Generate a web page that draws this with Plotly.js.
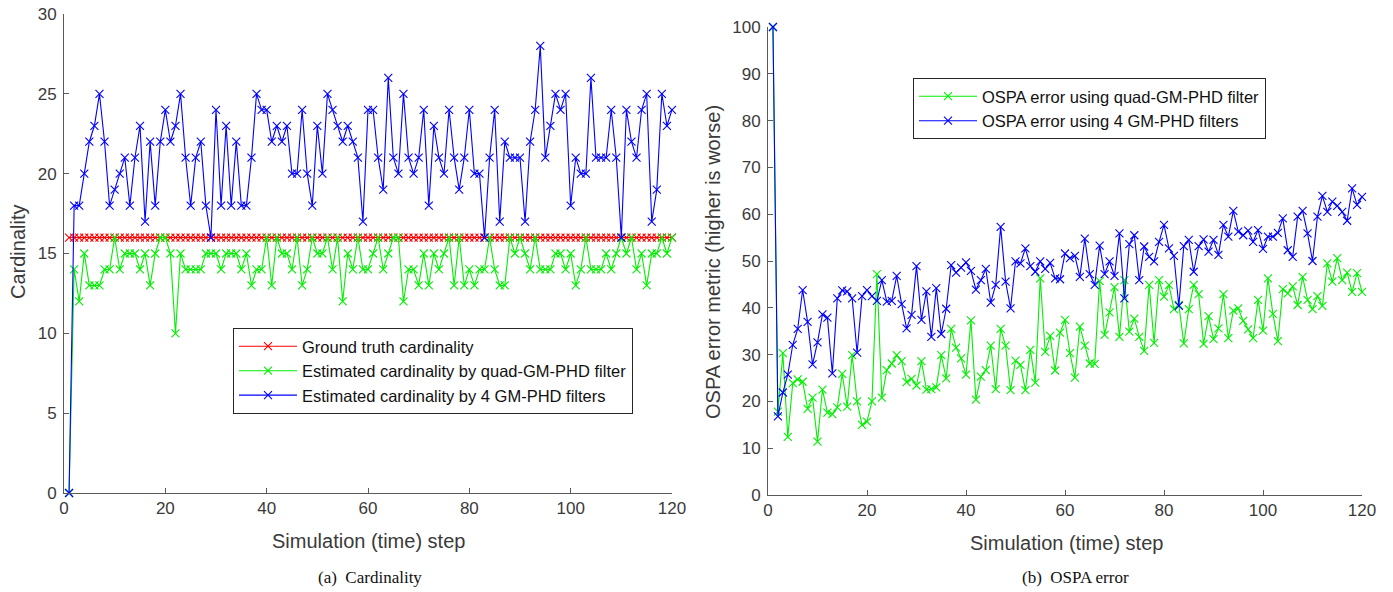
<!DOCTYPE html>
<html>
<head>
<meta charset="utf-8">
<script src="https://cdn.plot.ly/plotly-3.0.1.min.js"></script>
<style>html,body{margin:0;padding:0;background:#fff}#chart{width:1393px;height:592px}</style>
</head>
<body>
<div id="chart"></div>
<script>
// ---- data ----
const steps = Array.from({length: 120}, (_, i) => i + 1);

const groundTruthCard = [
16,16,16,16,16,16,16,16,16,16, 16,16,16,16,16,16,16,16,16,16,
16,16,16,16,16,16,16,16,16,16, 16,16,16,16,16,16,16,16,16,16,
16,16,16,16,16,16,16,16,16,16, 16,16,16,16,16,16,16,16,16,16,
16,16,16,16,16,16,16,16,16,16, 16,16,16,16,16,16,16,16,16,16,
16,16,16,16,16,16,16,16,16,16, 16,16,16,16,16,16,16,16,16,16,
16,16,16,16,16,16,16,16,16,16, 16,16,16,16,16,16,16,16,16,16];

const quadCard = [
0,14,12,15,13,13,13,14,14,16, 14,15,15,15,14,15,13,15,16,16,
15,10,15,14,14,14,14,15,15,15, 14,15,15,15,14,15,13,14,14,16,
13,16,15,15,14,16,13,14,16,15, 15,16,14,16,12,15,14,16,14,14,
15,16,14,15,16,16,12,14,14,13, 15,13,15,14,15,16,13,16,13,14,
13,14,14,16,14,13,13,16,15,16, 15,14,16,14,14,14,15,15,14,15,
13,14,16,14,14,14,15,14,15,16, 15,16,14,15,13,15,15,16,15,16];

const fourCard = [
0,18,18,20,22,23,25,22,18,19, 20,21,18,21,23,17,22,18,22,24,
22,23,25,21,18,21,22,18,16,24, 18,23,18,22,18,18,21,25,24,24,
22,23,22,23,20,20,24,20,18,23, 20,25,24,23,22,23,22,21,17,24,
24,21,19,26,21,20,25,21,20,21, 24,18,23,21,20,24,21,19,21,24,
20,20,16,21,24,17,22,21,21,21, 17,22,24,28,21,23,25,24,25,18,
21,20,20,26,21,21,21,24,21,16, 24,22,21,24,25,17,19,25,23,24];

const quadOspa = [
100,17.8,30.3,12.4,23.9,24.7,24.2,18.4,20.8,11.4,
22.5,17.6,17.3,18.7,25.9,18.9,29.9,20.0,15.0,15.7,
20.0,47.2,20.8,26.7,28.1,29.9,28.6,24.1,24.8,23.4,
28.6,22.5,22.6,23.0,29.9,24.9,35.5,31.5,29.2,25.7,
37.3,20.4,25.3,26.7,31.9,22.6,35.5,31.9,22.4,28.7,
27.8,22.4,31.0,24.0,46.3,30.6,34.0,26.6,34.7,37.4,
30.3,25.1,36.0,31.9,28.1,28.0,45.7,34.2,39.0,44.4,
33.8,45.9,34.9,37.7,33.8,30.8,44.9,32.5,45.9,42.4,
44.9,39.7,40.6,32.4,39.7,44.9,42.9,32.3,38.2,33.3,
35.6,42.9,33.5,39.4,39.9,37.2,35.4,33.5,41.7,35.1,
46.3,38.7,32.9,44.0,43.1,44.6,40.6,46.6,41.7,39.7,
42.5,40.4,49.5,45.6,50.6,45.9,47.5,43.4,47.4,43.4];

const fourOspa = [
100,16.8,21.9,25.7,32.1,35.5,43.8,37.0,27.9,32.6,
38.6,37.9,26.0,42.0,43.7,43.5,42.0,30.4,42.5,43.8,
42.5,41.5,45.9,41.3,41.5,46.8,40.8,35.6,38.5,48.9,
37.4,43.5,33.8,44.2,34.4,39.8,49.1,47.5,48.6,49.7,
47.9,43.9,45.9,48.3,41.1,44.9,57.3,45.6,39.9,49.9,
49.5,52.7,48.9,47.7,49.9,48.3,49.6,46.3,46.1,51.6,
50.6,51.1,46.6,54.8,47.2,44.9,53.3,47.2,49.9,46.8,
55.9,42.0,53.6,55.5,45.9,53.1,50.9,49.9,54.1,57.7,
52.7,51.1,40.4,53.2,54.5,47.7,53.2,54.6,52.0,54.5,
51.3,57.7,55.2,60.7,56.3,55.5,56.5,54.1,56.6,52.6,
55.2,55.2,56.0,59.1,52.3,50.9,59.5,60.7,55.9,50.0,
59.5,63.9,60.5,62.7,61.8,60.5,58.6,65.5,62.0,63.7];

const leftNames = ['Ground truth cardinality', 'Estimated cardinality by quad-GM-PHD filter', 'Estimated cardinality by 4 GM-PHD filters'];
const rightNames = ['OSPA error using quad-GM-PHD filter', 'OSPA error using 4 GM-PHD filters'];

// ---- styling ----
const W = 1393, H = 592;
const px = v => v / W;
const py = v => 1 - v / H;
const SANS = 'Liberation Sans, Arial, Helvetica, sans-serif';
const SERIF = 'Liberation Serif, Times New Roman, serif';
const TXT = '#3a3a3a';
const AX = '#5a5a5a';

function tr(y, name, color, xa, ya, leg) {
  return {
    x: steps, y: y, name: name, type: 'scatter', mode: 'lines+markers',
    xaxis: xa, yaxis: ya, legend: leg, cliponaxis: false,
    line: {color: color, width: 1.1},
    marker: {symbol: 'x-thin-open', size: 8, color: color, line: {color: color, width: 1.1}}
  };
}

const data = [
  tr(groundTruthCard, leftNames[0], '#ff0000', 'x', 'y', 'legend'),
  tr(quadCard, leftNames[1], '#00f000', 'x', 'y', 'legend'),
  tr(fourCard, leftNames[2], '#0000ff', 'x', 'y', 'legend'),
  tr(quadOspa, rightNames[0], '#00f000', 'x2', 'y2', 'legend2'),
  tr(fourOspa, rightNames[1], '#0000ff', 'x2', 'y2', 'legend2')
];

function axis(extra) {
  return Object.assign({
    showline: true, linecolor: AX, linewidth: 1,
    ticks: 'inside', ticklen: 5, tickwidth: 1, tickcolor: AX,
    showgrid: false, zeroline: false, mirror: false,
    tickfont: {family: SANS, size: 17, color: TXT},
    automargin: false
  }, extra);
}

const legStyle = {
  font: {family: SANS, size: 16.5, color: '#111'},
  bgcolor: '#ffffff', bordercolor: '#262626', borderwidth: 1,
  xanchor: 'left', yanchor: 'top', tracegroupgap: 0, itemwidth: 58
};

const layout = {
  width: W, height: H,
  margin: {l: 0, r: 0, t: 0, b: 0},
  paper_bgcolor: '#ffffff', plot_bgcolor: '#ffffff',
  showlegend: true,
  xaxis: axis({domain: [px(64), px(672)], range: [0, 120], tickvals: [0, 20, 40, 60, 80, 100, 120], anchor: 'y'}),
  yaxis: axis({domain: [py(493), py(14)], range: [0, 30], tickvals: [0, 5, 10, 15, 20, 25, 30], anchor: 'x', ticklabelstandoff: 3}),
  xaxis2: axis({domain: [px(768), px(1362)], range: [0, 120], tickvals: [0, 20, 40, 60, 80, 100, 120], anchor: 'y2'}),
  yaxis2: axis({domain: [py(495), py(27)], range: [0, 100], tickvals: [0, 10, 20, 30, 40, 50, 60, 70, 80, 90, 100], anchor: 'x2', ticklabelstandoff: 3}),
  legend: Object.assign({x: px(233), y: py(328)}, legStyle),
  legend2: Object.assign({x: px(913), y: py(78)}, legStyle),
  annotations: [
    {text: 'Simulation (time) step', x: px(368), y: py(541), xref: 'paper', yref: 'paper', showarrow: false, xanchor: 'center', yanchor: 'middle', font: {family: SANS, size: 20, color: TXT}},
    {text: 'Simulation (time) step', x: px(1066), y: py(543), xref: 'paper', yref: 'paper', showarrow: false, xanchor: 'center', yanchor: 'middle', font: {family: SANS, size: 20, color: TXT}},
    {text: 'Cardinality', x: px(18), y: py(252), xref: 'paper', yref: 'paper', showarrow: false, textangle: -90, xanchor: 'center', yanchor: 'middle', font: {family: SANS, size: 20, color: TXT}},
    {text: 'OSPA error metric (higher is worse)', x: px(713), y: py(262), xref: 'paper', yref: 'paper', showarrow: false, textangle: -90, xanchor: 'center', yanchor: 'middle', font: {family: SANS, size: 20, color: TXT}},
    {text: '(a)&nbsp;&nbsp;Cardinality', x: px(370), y: py(577), xref: 'paper', yref: 'paper', showarrow: false, xanchor: 'center', yanchor: 'middle', font: {family: SERIF, size: 17, color: '#111'}},
    {text: '(b)&nbsp;&nbsp;OSPA error', x: px(1075), y: py(577), xref: 'paper', yref: 'paper', showarrow: false, xanchor: 'center', yanchor: 'middle', font: {family: SERIF, size: 17, color: '#111'}}
  ]
};

Plotly.newPlot('chart', data, layout, {displayModeBar: false, responsive: false, staticPlot: true});
</script>
</body>
</html>
